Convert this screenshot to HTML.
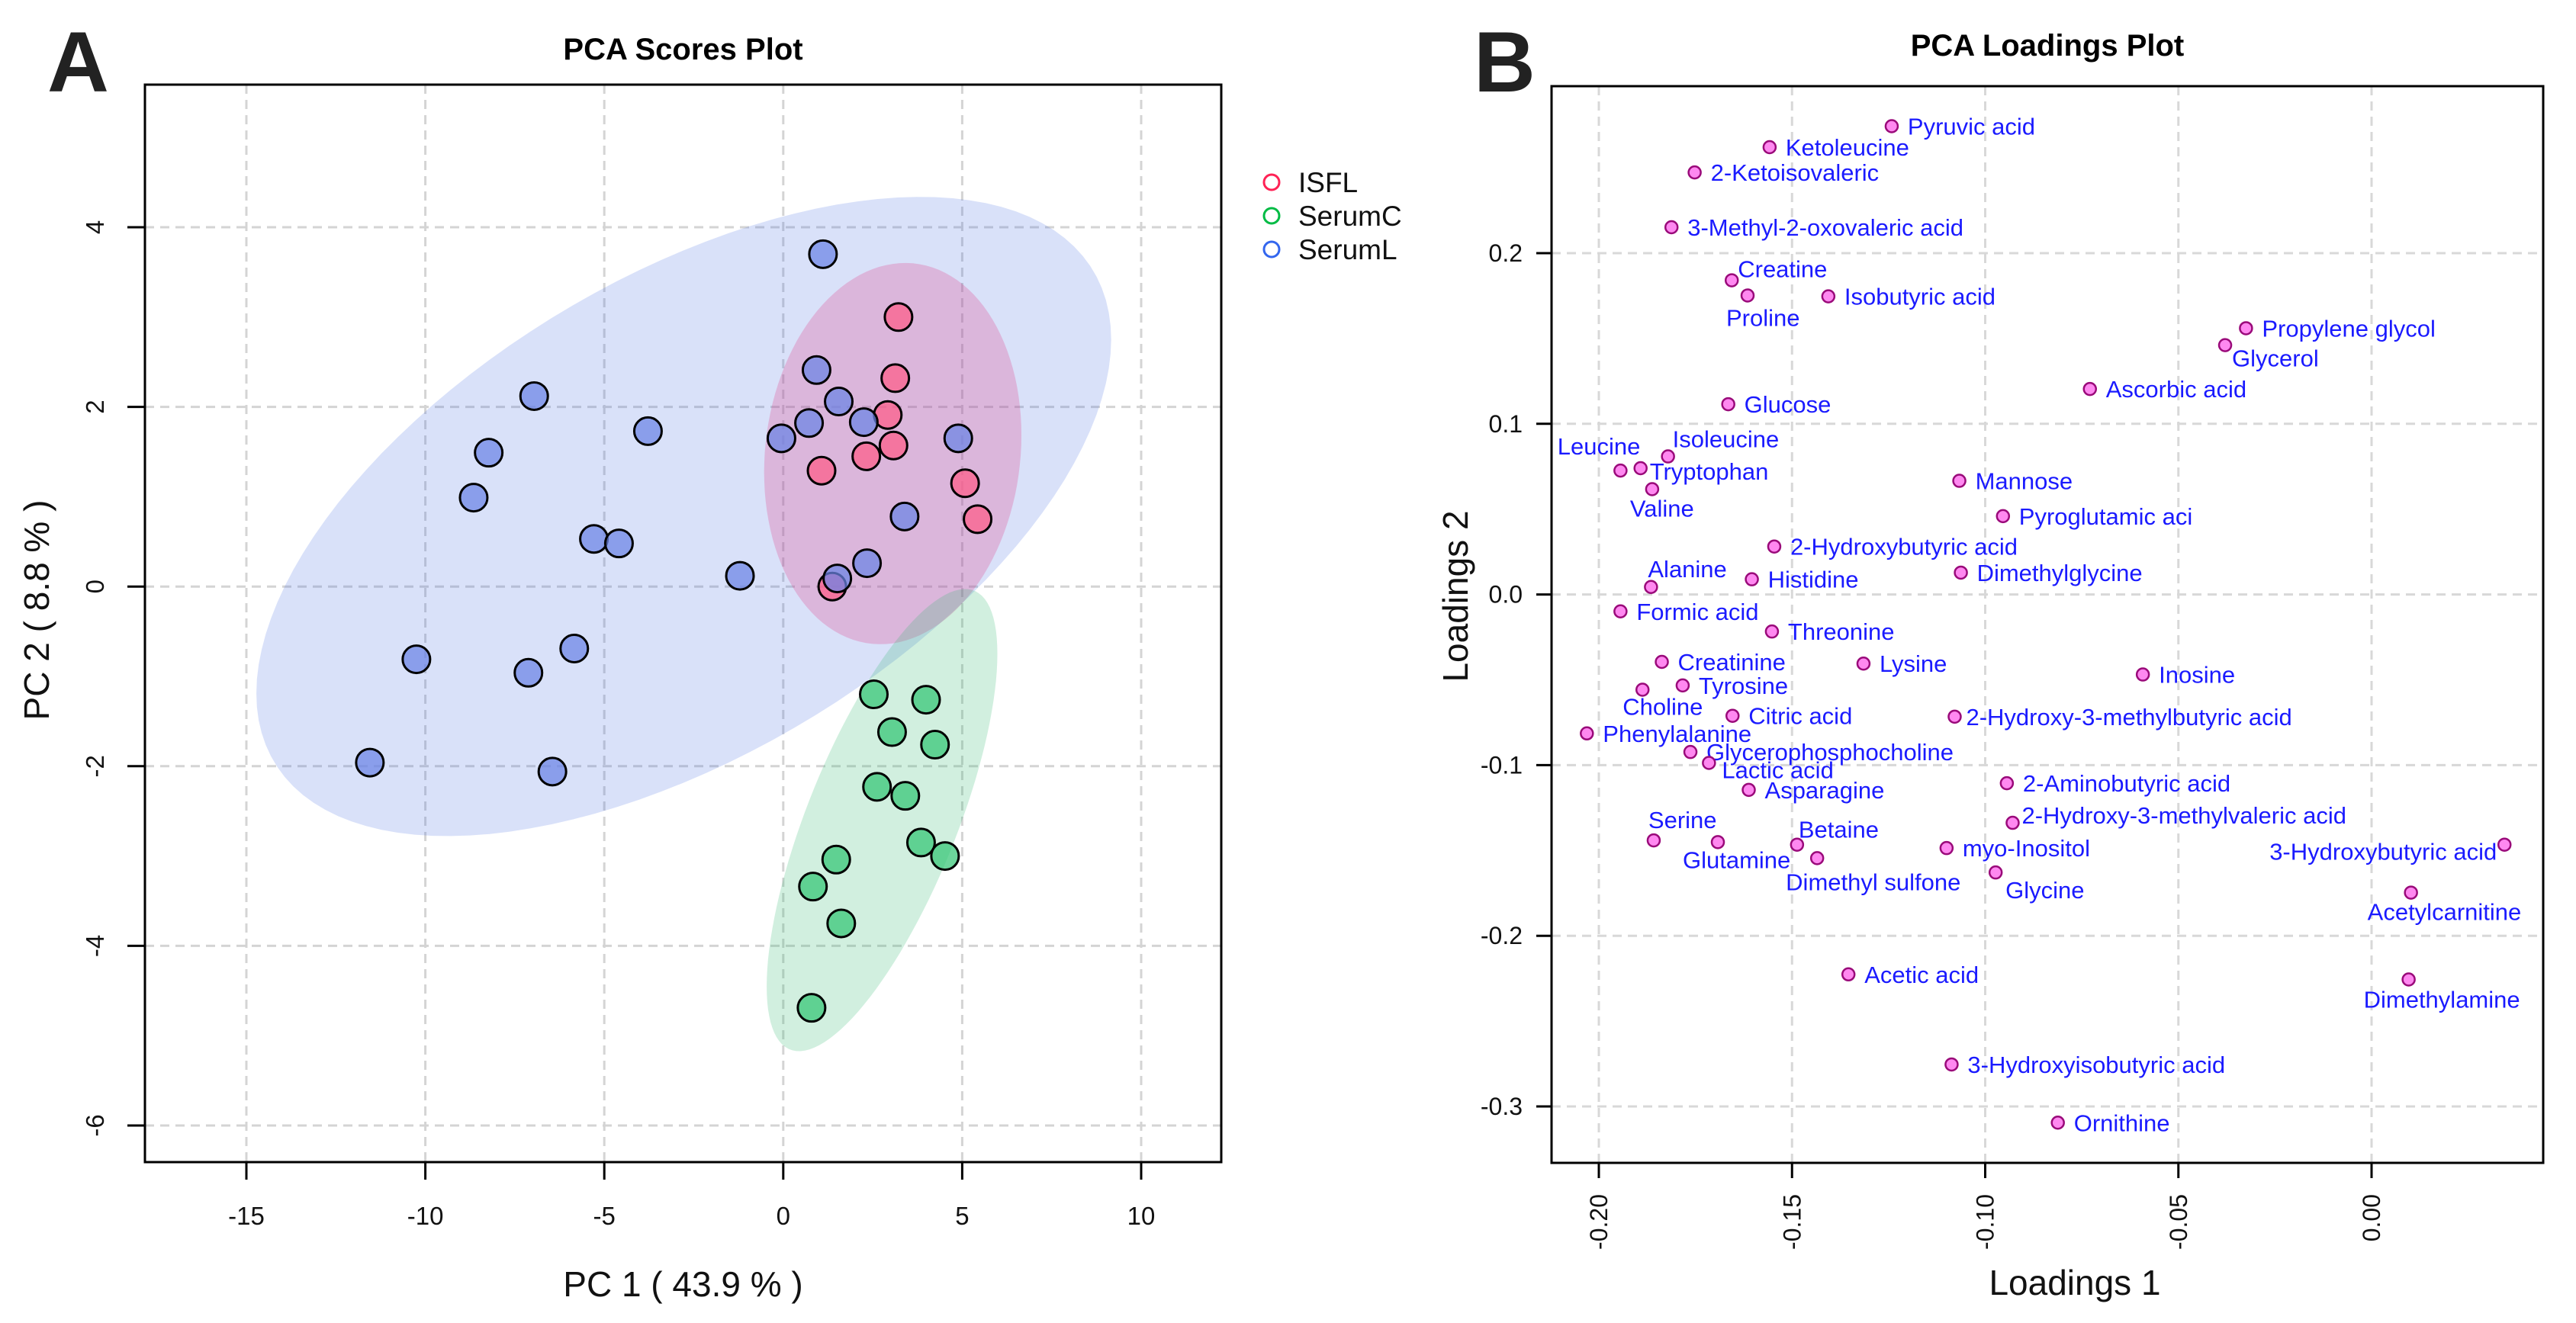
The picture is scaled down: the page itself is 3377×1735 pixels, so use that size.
<!DOCTYPE html>
<html><head><meta charset="utf-8"><style>
html,body{margin:0;padding:0;background:#fff;}
svg{display:block;font-family:"Liberation Sans",Arial,sans-serif;}
</style></head><body>
<svg id="fig" width="3377" height="1735" viewBox="0 0 3377 1735" xmlns="http://www.w3.org/2000/svg">
<rect x="0" y="0" width="3377" height="1735" fill="#fff"/>
<g id="panelA"></g>
<g id="panelB"></g>
</svg>
<script>
// ---------- Scores data ----------
const groups = ["ISFL", "SerumC", "SerumL"];
const isflX = [3.22, 3.13, 2.92, 3.08, 2.32, 1.07, 5.08, 5.43, 1.37];
const isflY = [3.00, 2.32, 1.91, 1.57, 1.45, 1.29, 1.15, 0.75, 0.00];
const serumCX = [2.53, 3.99, 3.04, 4.24, 2.62, 3.41, 3.85, 4.52, 1.48, 0.83, 1.62, 0.79];
const serumCY = [-1.20, -1.26, -1.62, -1.76, -2.23, -2.33, -2.85, -3.00, -3.04, -3.34, -3.75, -4.69];
const serumLX = [1.11, -6.96, -8.23, -8.65, -3.78, -5.29, -4.59, -1.21, -10.25, -5.84, -7.12, -11.55, -6.45, 0.93, 1.55, 0.72, -0.05, 2.25, 4.89, 3.39, 2.34, 1.51];
const serumLY = [3.70, 2.12, 1.49, 0.99, 1.73, 0.53, 0.48, 0.12, -0.81, -0.69, -0.96, -1.96, -2.06, 2.41, 2.06, 1.82, 1.65, 1.83, 1.65, 0.78, 0.26, 0.09];
// ellipse params: center x, center y, Sxx, Syy, Sxy (data units)
const ellipseSerumL = [-2.78, 0.78, 142.6, 12.66, 23.52];
const ellipseISFL = [3.06, 1.48, 12.92, 4.503, 0.738];
const ellipseSerumC = [2.76, -2.60, 10.39, 6.619, 5.967];
const scoreXTicks = [-15, -10, -5, 0, 5, 10];
const scoreYTicks = [-6, -4, -2, 0, 2, 4];

// ---------- Loadings data ----------
const loadNames = ["Pyruvic acid","Ketoleucine","2-Ketoisovaleric","3-Methyl-2-oxovaleric acid","Creatine","Proline","Isobutyric acid","Propylene glycol","Glycerol","Ascorbic acid","Glucose","Isoleucine","Leucine","Tryptophan","Valine","Mannose","Pyroglutamic aci","2-Hydroxybutyric acid","Alanine","Histidine","Dimethylglycine","Formic acid","Threonine","Creatinine","Lysine","Inosine","Tyrosine","Choline","Citric acid","2-Hydroxy-3-methylbutyric acid","Phenylalanine","Glycerophosphocholine","Lactic acid","Asparagine","2-Aminobutyric acid","2-Hydroxy-3-methylvaleric acid","Serine","Glutamine","Betaine","Dimethyl sulfone","myo-Inositol","Glycine","3-Hydroxybutyric acid","Acetylcarnitine","Acetic acid","Dimethylamine","3-Hydroxyisobutyric acid","Ornithine"];
const load1 = [-0.1242,-0.1558,-0.1752,-0.1812,-0.1656,-0.1615,-0.1406,-0.0325,-0.0379,-0.0729,-0.1665,-0.1821,-0.1944,-0.1892,-0.1862,-0.1067,-0.0954,-0.1546,-0.1865,-0.1604,-0.1063,-0.1944,-0.1552,-0.1837,-0.1315,-0.0592,-0.1783,-0.1887,-0.1654,-0.1079,-0.2031,-0.1763,-0.1715,-0.1612,-0.0944,-0.0929,-0.1858,-0.1692,-0.1487,-0.1435,-0.1100,-0.0973,0.0344,0.0102,-0.1354,0.0096,-0.1087,-0.0812];
const load2 = [0.2744,0.2621,0.2473,0.2152,0.1841,0.1752,0.1747,0.1560,0.1461,0.1204,0.1115,0.0809,0.0726,0.0740,0.0617,0.0666,0.0459,0.0281,0.0044,0.0089,0.0128,-0.0099,-0.0217,-0.0395,-0.0405,-0.0469,-0.0533,-0.0558,-0.0711,-0.0716,-0.0814,-0.0923,-0.0987,-0.1145,-0.1106,-0.1338,-0.1441,-0.1451,-0.1466,-0.1545,-0.1486,-0.1629,-0.1466,-0.1747,-0.2226,-0.2256,-0.2754,-0.3095];
const loadXTicks = [-0.20, -0.15, -0.10, -0.05, 0.00];
const loadYTicks = [-0.3, -0.2, -0.1, 0.0, 0.1, 0.2];

// label placement (style): [dx, dyCenter, anchor]
const R = [21, 0, "start"];
const labelPlace = {
 "Creatine":[8,-15,"start"], "Proline":[-28,29,"start"], "Glycerol":[9,17,"start"],
 "Isoleucine":[6,-23,"start"], "Leucine":[26,-32,"end"], "Tryptophan":[12,4,"start"],
 "Valine":[-29,25,"start"], "Alanine":[-4,-24,"start"], "Choline":[-26,22,"start"],
 "Lactic acid":[17,9,"start"], "2-Hydroxy-3-methylvaleric acid":[12,-10,"start"],
 "Serine":[-7,-27,"start"], "Glutamine":[-46,23,"start"], "Betaine":[2,-20,"start"],
 "Dimethyl sulfone":[-41,31,"start"], "Glycine":[13,23,"start"],
 "3-Hydroxybutyric acid":[-10,9,"end"], "Acetylcarnitine":[-57,25,"start"],
 "Dimethylamine":[-59,26,"start"], "2-Hydroxy-3-methylbutyric acid":[15,0,"start"]
};

const NS = "http://www.w3.org/2000/svg";
function mk(parent, tag, attrs, text) {
  const el = document.createElementNS(NS, tag);
  for (const k in attrs) el.setAttribute(k, attrs[k]);
  if (text !== undefined) el.textContent = text;
  parent.appendChild(el);
  return el;
}

// ---------- Panel A ----------
const A = document.getElementById("panelA");
const aL = 190, aR = 1601, aT = 111, aB = 1524;
const sx = v => 323 + (v - (-15)) * (1496 - 323) / 25;
const sy = v => 298 + (4 - v) * (1476 - 298) / 10;

let t;
t = mk(A, "text", {x: 62, y: 120, "font-size": 112, "font-weight": "bold", fill: "#222"}, "A");


t = mk(A, "text", {x: (aL + aR) / 2, y: 78, "font-size": 40, "font-weight": "bold", "text-anchor": "middle"}, "PCA Scores Plot");



const gridA = mk(A, "g", {stroke: "#d4d4d4", "stroke-width": 3, "stroke-dasharray": "12 8"});


scoreXTicks.forEach(v => mk(gridA, "line", {x1: sx(v), x2: sx(v), y1: aT, y2: aB}));
scoreYTicks.forEach(v => mk(gridA, "line", {x1: aL, x2: aR, y1: sy(v), y2: sy(v)}));

function drawEllipse(parent, p, fill, name) {
  const [cx, cy, sxx, syy, sxy] = p;
  const l11 = Math.sqrt(sxx), l21 = sxy / l11, l22 = Math.sqrt(Math.max(syy - l21 * l21, 0.0001));
  let d = "";
  for (let i = 0; i <= 120; i++) {
    const a = i / 120 * 2 * Math.PI;
    const x = cx + l11 * Math.cos(a);
    const y = cy + l21 * Math.cos(a) + l22 * Math.sin(a);
    d += (i ? "L" : "M") + sx(x).toFixed(1) + "," + sy(y).toFixed(1);
  }
  const e = mk(parent, "path", {d: d + "Z", fill: fill, stroke: "none"});
  
  
}
drawEllipse(A, ellipseSerumL, "rgba(65,105,225,0.2)", "ellipse-seruml");
drawEllipse(A, ellipseISFL, "rgba(229,57,130,0.25)", "ellipse-isfl");
drawEllipse(A, ellipseSerumC, "rgba(46,184,110,0.22)", "ellipse-serumc");

function drawPts(xs, ys, fill, name) {
  const g = mk(A, "g", {});
  
  
  xs.forEach((x, i) => {
    const c = mk(g, "circle", {cx: sx(x), cy: sy(ys[i]), r: 18, fill: fill, "fill-opacity": 0.72, stroke: "#000", "stroke-width": 3});
    
    
  });
}
drawPts(serumCX, serumCY, "rgb(51,197,117)", "serumc-points");
drawPts(isflX, isflY, "rgb(254,92,136)", "isfl-points");
drawPts(serumLX, serumLY, "rgb(107,132,229)", "seruml-points");

mk(A, "rect", {x: aL, y: aT, width: aR - aL, height: aB - aT, fill: "none", stroke: "#000", "stroke-width": 3});
const axA = mk(A, "g", {stroke: "#000", "stroke-width": 3});
scoreXTicks.forEach(v => mk(axA, "line", {x1: sx(v), x2: sx(v), y1: aB, y2: aB + 23}));
scoreYTicks.forEach(v => mk(axA, "line", {x1: aL, x2: aL - 23, y1: sy(v), y2: sy(v)}));
scoreXTicks.forEach(v => {
  const tx = mk(A, "text", {x: sx(v), y: 1606, "font-size": 33, "text-anchor": "middle", fill: "#111"}, String(v));
  
  
});
scoreYTicks.forEach(v => {
  const tx = mk(A, "text", {x: 0, y: 0, "font-size": 33, "text-anchor": "middle", fill: "#111", transform: `translate(136,${sy(v)}) rotate(-90)`}, String(v));
  
  
});
t = mk(A, "text", {x: (aL + aR) / 2, y: 1700, "font-size": 46, "text-anchor": "middle", fill: "#111"}, "PC 1 ( 43.9 % )");


t = mk(A, "text", {x: 0, y: 0, "font-size": 46, "text-anchor": "middle", fill: "#111", transform: "translate(64,800) rotate(-90)"}, "PC 2 ( 8.8 % )");



const legCols = ["#ff2255", "#00bb44", "#3366ee"];
const legY = [239, 283, 327];
groups.forEach((gname, i) => {
  const g = mk(A, "g", {});
  
  
  mk(g, "circle", {cx: 1667, cy: legY[i], r: 10, fill: "none", stroke: legCols[i], "stroke-width": 3});
  mk(g, "text", {x: 1702, y: legY[i] + 13, "font-size": 37, fill: "#111"}, gname);
});

// ---------- Panel B ----------
const B = document.getElementById("panelB");
const bL = 2034, bR = 3334, bT = 113, bB = 1525;
const lx = v => 2096 + (v - (-0.2)) * (3109 - 2096) / 0.2;
const ly = v => 332 + (0.2 - v) * (1451 - 332) / 0.5;

t = mk(B, "text", {x: 1932, y: 120, "font-size": 112, "font-weight": "bold", fill: "#222"}, "B");


t = mk(B, "text", {x: (bL + bR) / 2, y: 73, "font-size": 40, "font-weight": "bold", "text-anchor": "middle"}, "PCA Loadings Plot");



const gridB = mk(B, "g", {stroke: "#d8d8d8", "stroke-width": 3, "stroke-dasharray": "12 8"});


loadXTicks.forEach(v => mk(gridB, "line", {x1: lx(v), x2: lx(v), y1: bT, y2: bB}));
loadYTicks.forEach(v => mk(gridB, "line", {x1: bL, x2: bR, y1: ly(v), y2: ly(v)}));

loadNames.forEach((n, i) => {
  const px = lx(load1[i]), py = ly(load2[i]);
  const c = mk(B, "circle", {cx: px, cy: py, r: 8, fill: "#ff88f0", stroke: "#9a0a7a", "stroke-width": 2.5});
  
  
  const p = labelPlace[n] || R;
  const tx = mk(B, "text", {x: px + p[0], y: py + p[1] + 11, "font-size": 31, fill: "#1a1aff", "text-anchor": p[2]}, n);
  
  
});

mk(B, "rect", {x: bL, y: bT, width: bR - bL, height: bB - bT, fill: "none", stroke: "#000", "stroke-width": 3});
const axB = mk(B, "g", {stroke: "#000", "stroke-width": 3});
loadXTicks.forEach(v => mk(axB, "line", {x1: lx(v), x2: lx(v), y1: bB, y2: bB + 20}));
loadYTicks.forEach(v => mk(axB, "line", {x1: bL, x2: bL - 20, y1: ly(v), y2: ly(v)}));
loadXTicks.forEach(v => {
  const tx = mk(B, "text", {x: 0, y: 0, "font-size": 32, "text-anchor": "end", fill: "#111", transform: `translate(${lx(v) + 11},1566) rotate(-90)`}, v.toFixed(2));
  
  
});
loadYTicks.forEach(v => {
  const tx = mk(B, "text", {x: 1996, y: ly(v) + 11, "font-size": 32, "text-anchor": "end", fill: "#111"}, v.toFixed(1));
  
  
});
t = mk(B, "text", {x: 2720, y: 1698, "font-size": 46, "text-anchor": "middle", fill: "#111"}, "Loadings 1");


t = mk(B, "text", {x: 0, y: 0, "font-size": 46, "text-anchor": "middle", fill: "#111", transform: "translate(1924,782) rotate(-90)"}, "Loadings 2");


</script>
</body></html>
